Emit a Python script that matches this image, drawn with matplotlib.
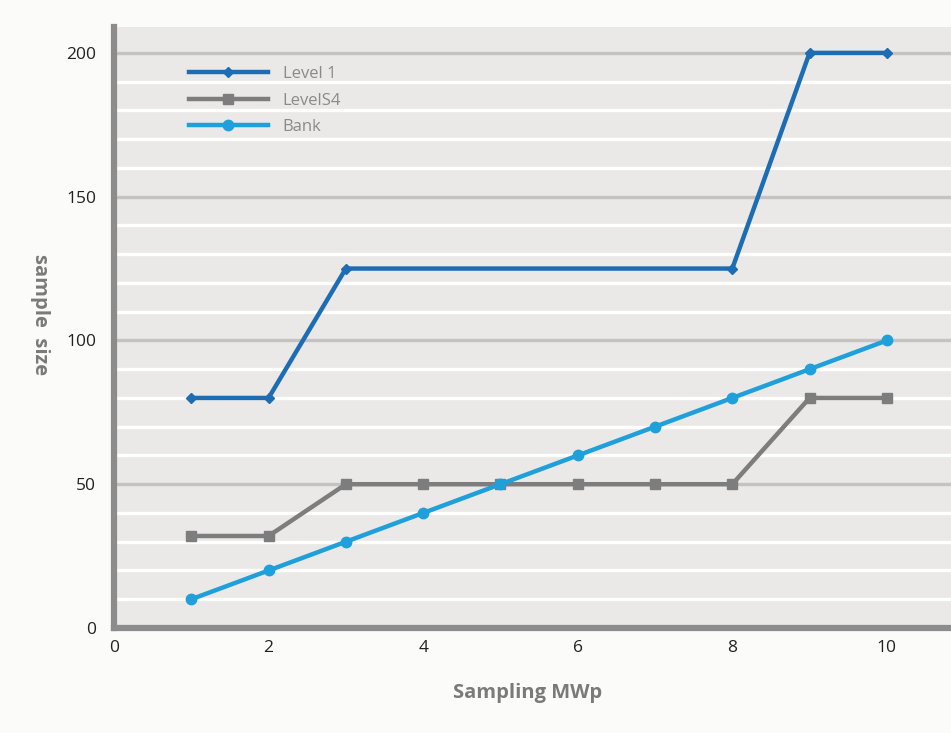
import matplotlib
matplotlib.use("Agg")
import matplotlib.pyplot as plt

level1_x = [1, 2, 3, 8, 9, 10]
level1_y = [80, 80, 125, 125, 200, 200]
s4_x = [1, 2, 3, 4, 5, 6, 7, 8, 9, 10]
s4_y = [32, 32, 50, 50, 50, 50, 50, 50, 80, 80]
bank_x = [1, 2, 3, 4, 5, 6, 7, 8, 9, 10]
bank_y = [10, 20, 30, 40, 50, 60, 70, 80, 90, 100]
x_ticks = [0, 2, 4, 6, 8, 10]
y_ticks = [0, 50, 100, 150, 200]

plt.rcParams['font.family'] = ['Open Sans', 'DejaVu Sans']

fig = plt.figure(figsize=(9.51, 7.33), dpi=100, facecolor='#fbfbf9')
ax = fig.add_axes([114/951, 105/733, (951-114)/951, (628-27)/733])
ax.set_facecolor('#ebe9e7')
ax.set_xlim(0, 10.83)
ax.set_ylim(0, 209)

# grid
for v in range(10, 210, 10):
    if v % 50 == 0:
        ax.axhline(v, color='#c3c3c3', lw=2.4, zorder=1)
    else:
        ax.axhline(v, color='#ffffff', lw=2.4, zorder=1)

ax.plot(level1_x, level1_y, color='#1d6db4', lw=3.2, marker='D', ms=5,
        label='Level 1', zorder=4)
ax.plot(s4_x, s4_y, color='#7d7d7d', lw=3.2, marker='s', ms=7.5,
        label='LevelS4', zorder=3)
ax.plot(bank_x, bank_y, color='#1fa0db', lw=3.2, marker='o', ms=7.5,
        label='Bank', zorder=3)

for s in ['top', 'right']:
    ax.spines[s].set_visible(False)
for s in ['left', 'bottom']:
    ax.spines[s].set_color('#8c8c8c')
    ax.spines[s].set_linewidth(4.5)
    ax.spines[s].set_zorder(5)

ax.set_xticks(x_ticks)
ax.set_yticks(y_ticks)
ax.tick_params(length=0, labelsize=12.5, labelcolor='#222222')
ax.tick_params(axis='x', pad=9)
ax.tick_params(axis='y', pad=13)

ax.set_xlabel('Sampling MWp', fontsize=14.5, fontweight='bold', color='#7a7a7a')
ax.xaxis.set_label_coords((528-114)/837, (628-693)/601)
ax.xaxis.label.set_va('center')
ax.set_ylabel('sample  size', fontsize=14.5, fontweight='bold', color='#7a7a7a',
              rotation=270)
ax.yaxis.set_label_coords((40-114)/837, (628-315)/601)
ax.yaxis.label.set_va('center')
ax.yaxis.label.set_ha('center')

leg = ax.legend(loc='upper left', bbox_to_anchor=(0.072, 0.96), frameon=False,
                fontsize=12, handlelength=4.7, handletextpad=0.9, labelspacing=0.63,
                labelcolor='#8a8a8a')

fig.savefig('out.png', dpi=100, facecolor=fig.get_facecolor())
